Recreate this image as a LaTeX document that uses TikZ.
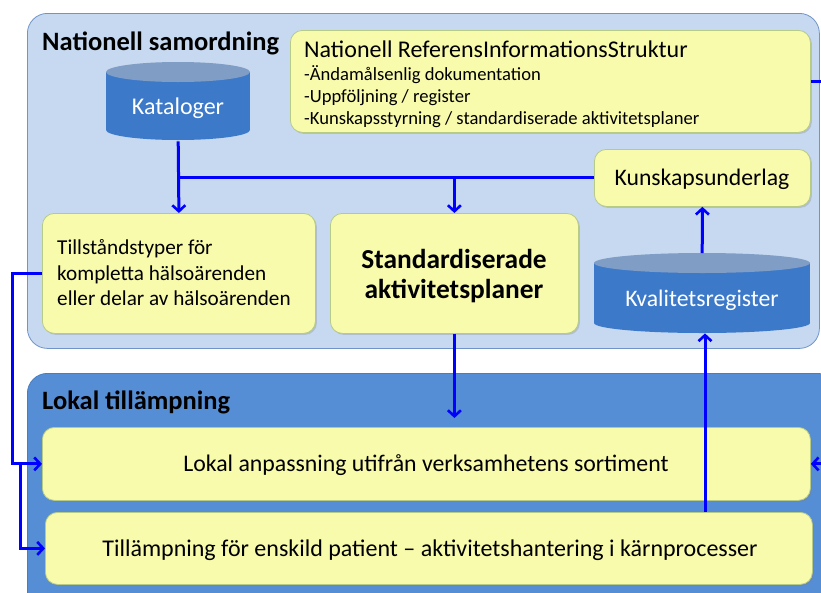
\documentclass[tikz,border=0pt]{standalone}
\usepackage{fontspec}
\setmainfont{Carlito}
\usetikzlibrary{shadows,arrows.meta}
\definecolor{panelA}{HTML}{C6D9F0}
\definecolor{panelAline}{HTML}{7094C8}
\definecolor{panelB}{HTML}{558ED5}
\definecolor{panelBline}{HTML}{4A7DBE}
\definecolor{boxfill}{HTML}{F8FAAC}
\definecolor{boxline}{HTML}{B7CB86}
\definecolor{cylbody}{HTML}{3C79C9}
\definecolor{cyltop}{HTML}{7F9DC5}
\definecolor{link}{HTML}{0000FF}
\newcommand{\fsz}[1]{\fontsize{#1}{#1}\selectfont}
\begin{document}
\begin{tikzpicture}[x=1pt,y=-1pt,
  panel/.style={rounded corners=20pt, anchor=north west, inner sep=0pt},
  ybox/.style={draw=boxline, fill=boxfill, rounded corners=12pt, line width=0.8pt,
    anchor=north west, inner sep=0pt,
    drop shadow={shadow xshift=1.5pt, shadow yshift=-1.5pt, opacity=0.3}},
  cylbox/.style={anchor=north west, inner sep=0pt, text=white},
  title/.style={anchor=west, inner sep=0pt, font=\fsz{26.5}\bfseries},
  link/.style={draw=link, line width=3pt},
  arr/.style={link, -{Straight Barb[length=6pt, width=13pt, line width=2.6pt]}},
]
\useasboundingbox (0,0) rectangle (821,592);
\clip (0,0) rectangle (821,592);

% the two panels
\node[panel, fill=panelA, draw=panelAline, line width=0.8pt,
  minimum width=792pt, minimum height=335pt] (nat) at (27,13) {};
\node[panel, fill=panelB, draw=panelBline, line width=0.8pt,
  minimum width=810pt, minimum height=260pt] (lok) at (27,373) {};
\node[title] (natT) at (42,43) {Nationell samordning};
\node[title] (lokT) at (42,402) {Lokal tillämpning};

% reference structure box
\node[ybox, minimum width=520pt, minimum height=102pt] (nris) at (290,30) {};
\node[anchor=west, inner sep=0pt, font=\fsz{24}] (nrisT) at (304,49) {Nationell ReferensInformationsStruktur};
\node[anchor=west, inner sep=0pt, font=\fsz{18.6}, align=left] (nrisL) at (304,97)
  {-Ändamålsenlig dokumentation\\[3.4pt]-Uppföljning / register\\[3.4pt]-Kunskapsstyrning / standardiserade aktivitetsplaner};

% catalogue cylinder
\node[cylbox, minimum width=144pt, minimum height=79pt] (kat) at (106,62) {};
\fill[cylbody] (106,72) rectangle (250,130);
\fill[cylbody] (178,130) ellipse [x radius=72pt, y radius=10pt];
\fill[cyltop] (178,72) ellipse [x radius=72pt, y radius=10pt];
\node[font=\fsz{24}, text=white] at (178,108) {Kataloger};

% quality register cylinder
\node[cylbox, minimum width=216pt, minimum height=80pt] (kval) at (594,253) {};
\fill[cylbody] (594,263) rectangle (810,323);
\fill[cylbody] (702,323) ellipse [x radius=108pt, y radius=10pt];
\fill[cyltop] (702,263) ellipse [x radius=108pt, y radius=10pt];
\node[font=\fsz{23.7}, text=white] at (702,300) {Kvalitetsregister};

% yellow boxes in the national panel
\node[ybox, minimum width=216pt, minimum height=57pt] (kunsk) at (594,149) {};
\node[font=\fsz{23.7}] at (702,179) {Kunskapsunderlag};
\node[ybox, minimum width=273pt, minimum height=120pt] (till) at (42,213) {};
\node[anchor=west, inner sep=0pt, font=\fsz{21.2}, align=left] at (57,273)
  {Tillståndstyper för\\[4.3pt]kompletta hälsoärenden\\[4.3pt]eller delar av hälsoärenden};
\node[ybox, minimum width=248pt, minimum height=120pt] (std) at (330,213) {};
\node[font=\fsz{27.4}\bfseries, align=center] at (454,276)
  {Standardiserade\\[2.6pt]aktivitetsplaner};

% yellow boxes in the local panel
\node[ybox, minimum width=768pt, minimum height=73pt] (anp) at (42,427) {};
\node[font=\fsz{23.8}] at (426,465) {Lokal anpassning utifrån verksamhetens sortiment};
\node[ybox, minimum width=767pt, minimum height=72pt] (pat) at (45,512) {};
\node[font=\fsz{24}] at (430,550) {Tillämpning för enskild patient – aktivitetshantering i kärnprocesser};

% connectors
\coordinate (j1) at (kunsk.west -| kat.south);
\coordinate (j2) at (kunsk.west -| std.north);
\draw[arr] (kat.south) -- (till.north);
\draw[link] (j1) -- (kunsk.west);
\draw[arr] (j2) -- (std.north);
\draw[arr] (kval.north) -- (kunsk.south);
\draw[arr, shorten >=9pt] (std.south) -- (std.south |- anp.north);
\coordinate (l1) at (12,0);
\coordinate (l2) at (20,0);
\draw[arr] (till.west) -- (till.west -| l1) -- (anp.west -| l1) -- (anp.west);
\draw[arr] (anp.west -| l2) -- (pat.west -| l2) -- (pat.west);
\coordinate (pv) at (705,0);
\draw[arr] (pat.north -| pv) -- (kval.south -| pv);
\coordinate (r) at (840,0);
\draw[link] (nris.east) -- (nris.east -| r);
\draw[arr] (anp.east -| r) -- (anp.east);
\end{tikzpicture}
\end{document}
